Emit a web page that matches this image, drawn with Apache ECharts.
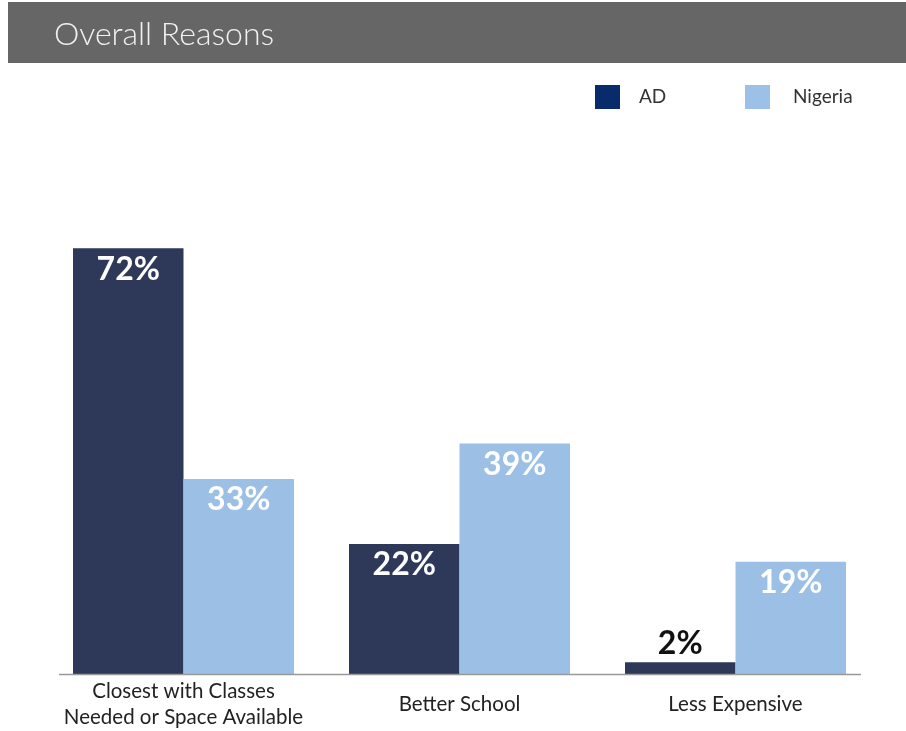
<!DOCTYPE html>
<html>
<head>
<meta charset="utf-8">
<script src="https://cdn.jsdelivr.net/npm/echarts@6/dist/echarts.min.js"></script>
<style>
html,body{margin:0;padding:0;background:#fff;}
#chart{width:906px;height:731px;}
</style>
</head>
<body>
<div id="chart"></div>
<script>
const categories = ['Closest with Classes\nNeeded or Space Available', 'Better School', 'Less Expensive'];
const adValues = [72, 22, 2];
const nigeriaValues = [33, 39, 19];
const seriesNames = ['AD', 'Nigeria'];

const FONT = 'Lato, "Noto Sans", sans-serif';
const chart = echarts.init(document.getElementById('chart'));

function labelFor(v) {
  if (v < 5) {
    return { show: true, position: 'top', distance: 2, color: '#111', fontSize: 32, fontFamily: FONT, fontWeight: 'bold', formatter: '{c}%' };
  }
  return { show: true, position: 'insideTop', distance: 5, color: '#fff', fontSize: 32, fontFamily: FONT, fontWeight: 'bold', formatter: '{c}%' };
}

chart.setOption({
  animation: false,
  graphic: [
    { type: 'rect', shape: { x: 8, y: 2, width: 898, height: 61 }, style: { fill: '#666666' }, z: 0 },
    { type: 'line', shape: { x1: 59, y1: 674.5, x2: 861, y2: 674.5 }, style: { stroke: '#999', lineWidth: 1.5 }, z: 10 }
  ],
  title: {
    text: 'Overall Reasons',
    left: 49, top: 14,
    textStyle: { color: '#f2f2f2', fontSize: 32, fontWeight: 300, fontFamily: FONT }
  },
  legend: [
    {
      data: [{ name: seriesNames[0], itemStyle: { color: '#072B6B' } }],
      left: 590, top: 80, itemWidth: 25, itemHeight: 24, icon: 'rect',
      textStyle: { fontSize: 19, color: '#333', fontFamily: FONT, padding: [3, 0, 0, 14] }
    },
    {
      data: [{ name: seriesNames[1], itemStyle: { color: '#9DC0E6' } }],
      left: 740, top: 80, itemWidth: 25, itemHeight: 24, icon: 'rect',
      textStyle: { fontSize: 19, color: '#333', fontFamily: FONT, padding: [3, 0, 0, 18] }
    }
  ],
  grid: { left: 45.5, right: 32.5, top: 201, bottom: 57, containLabel: false },
  xAxis: {
    type: 'category',
    data: categories,
    axisLine: { show: false },
    axisTick: { show: false },
    axisLabel: { margin: 30, verticalAlign: 'middle', lineHeight: 26, fontSize: 20.5, color: '#222', fontFamily: FONT, interval: 0 }
  },
  yAxis: { type: 'value', min: 0, max: 80, show: false, splitLine: { show: false } },
  series: [
    {
      name: seriesNames[0], type: 'bar', barWidth: 110.5, barGap: '0%',
      itemStyle: { color: '#2E3858' },
      data: adValues.map(v => ({ value: v, label: labelFor(v) }))
    },
    {
      name: seriesNames[1], type: 'bar', barWidth: 110.5, barGap: '0%',
      itemStyle: { color: '#9BBFE5' },
      data: nigeriaValues.map(v => ({ value: v, label: labelFor(v) }))
    }
  ]
});
</script>
</body>
</html>
